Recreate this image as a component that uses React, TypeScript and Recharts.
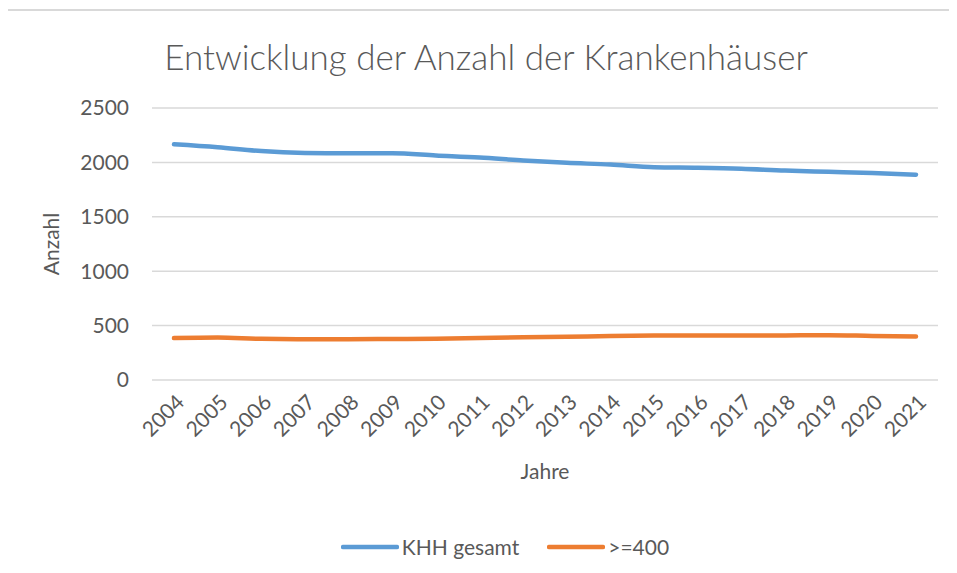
import React from 'react';
import {
  LineChart,
  Line,
  XAxis,
  YAxis,
  CartesianGrid,
  Legend,
  Label,
} from 'recharts';

const COLORS = {
  blue: '#5B9BD5',
  orange: '#ED7D31',
  grid: '#D9D9D9',
  text: '#595959',
  border: '#D9D9D9',
};

const FONT = 'Lato, "Open Sans", sans-serif';

const years = [
  '2004', '2005', '2006', '2007', '2008', '2009', '2010', '2011', '2012',
  '2013', '2014', '2015', '2016', '2017', '2018', '2019', '2020', '2021',
];
const khhGesamt = [
  2166, 2139, 2104, 2087, 2083, 2084, 2064, 2045, 2017,
  1996, 1980, 1956, 1951, 1942, 1925, 1914, 1903, 1887,
];
const ab400 = [
  385, 390, 378, 375, 374, 377, 380, 386, 392,
  397, 404, 408, 410, 408, 410, 412, 405, 400,
];
const yTicks = [0, 500, 1000, 1500, 2000, 2500];

const data = years.map((year, i) => ({
  year,
  gesamt: khhGesamt[i],
  ab400: ab400[i],
}));

const series = [
  { key: 'gesamt', name: 'KHH gesamt', color: COLORS.blue },
  { key: 'ab400', name: '>=400', color: COLORS.orange },
];

// Excel-like legend: plain thick line + label
const ChartLegend = () => (
  <div
    style={{
      display: 'flex',
      justifyContent: 'center',
      alignItems: 'center',
      fontFamily: FONT,
      fontSize: 21,
      color: COLORS.text,
    }}
  >
    {series.map((s, i) => (
      <div
        key={s.key}
        style={{ display: 'flex', alignItems: 'center', marginLeft: i ? 28 : 0 }}
      >
        <svg width={58} height={8} style={{ marginRight: 3 }}>
          <line
            x1={2}
            y1={4}
            x2={56}
            y2={4}
            stroke={s.color}
            strokeWidth={4.5}
            strokeLinecap="round"
          />
        </svg>
        <span>{s.name}</span>
      </div>
    ))}
  </div>
);

export default function App() {
  return (
    <div
      style={{
        position: 'relative',
        width: 957,
        height: 573,
        margin: -8,
        overflow: 'hidden',
        background: '#fff',
      }}
    >
      {/* chart frame */}
      <div
        style={{
          position: 'absolute',
          left: 6,
          top: 9,
          width: 1000,
          height: 600,
          borderLeft: `2px solid ${COLORS.border}`,
          borderTop: `2px solid ${COLORS.border}`,
        }}
      />
      <div
        style={{
          position: 'absolute',
          left: 0,
          top: 35,
          width: 972,
          textAlign: 'center',
          fontFamily: FONT,
          fontSize: 35,
          fontWeight: 300,
          color: COLORS.text,
          lineHeight: '42px',
        }}
      >
        Entwicklung der Anzahl der Krankenhäuser
      </div>
      <div style={{ position: 'absolute', left: 0, top: 0 }}>
        <LineChart
          width={957}
          height={573}
          data={data}
          margin={{ top: 108, right: 19, bottom: 0, left: 72 }}
        >
          <CartesianGrid vertical={false} stroke={COLORS.grid} strokeWidth={1.5} />
          <XAxis
            dataKey="year"
            axisLine={false}
            tickLine={false}
            interval={0}
            padding={{ left: 22, right: 22 }}
            height={120}
            tick={{
              fill: COLORS.text,
              fontSize: 21,
              fontFamily: FONT,
              angle: -45,
              textAnchor: 'end',
              dx: 1,
              dy: 5,
            }}
          >
            <Label
              value="Jahre"
              position="center"
              dy={32}
              style={{ fill: COLORS.text, fontSize: 21, fontFamily: FONT }}
            />
          </XAxis>
          <YAxis
            width={80}
            domain={[0, 2500]}
            ticks={yTicks}
            axisLine={false}
            tickLine={false}
            tickMargin={17}
            tick={{ fill: COLORS.text, fontSize: 21, fontFamily: FONT }}
          >
            <Label
              value="Anzahl"
              angle={-90}
              position="center"
              dx={-60}
              style={{ fill: COLORS.text, fontSize: 21, fontFamily: FONT, textAnchor: 'middle' }}
            />
          </YAxis>
          <Legend
            verticalAlign="bottom"
            height={73}
            wrapperStyle={{ top: 534, bottom: 'auto' }}
            content={() => <ChartLegend />}
          />
          {series.map((s) => (
            <Line
              key={s.key}
              type="monotone"
              dataKey={s.key}
              name={s.name}
              stroke={s.color}
              strokeWidth={4.5}
              strokeLinecap="round"
              dot={false}
              activeDot={false}
              isAnimationActive={false}
            />
          ))}
        </LineChart>
      </div>
    </div>
  );
}
